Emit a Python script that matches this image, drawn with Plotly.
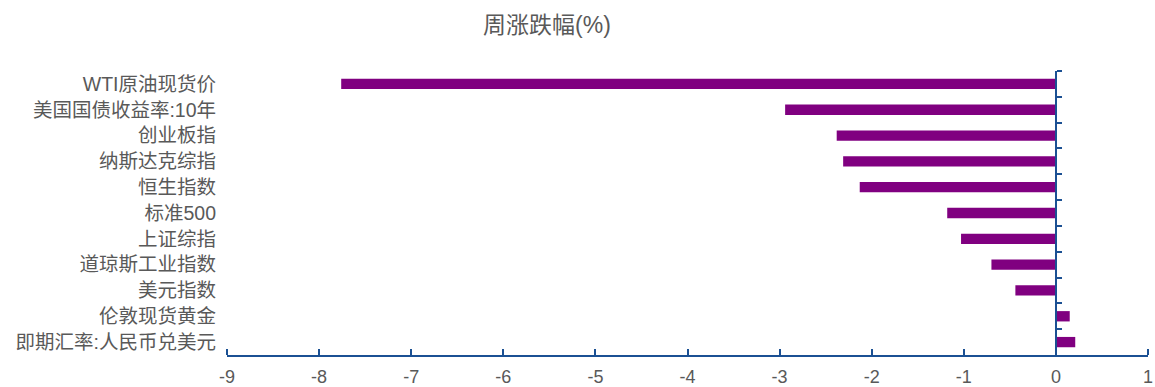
import plotly.graph_objects as go

categories = ["WTI原油现货价", "美国国债收益率:10年", "创业板指", "纳斯达克综指", "恒生指数",
              "标准500", "上证综指", "道琼斯工业指数", "美元指数", "伦敦现货黄金", "即期汇率:人民币兑美元"]
values = [-7.76, -2.94, -2.38, -2.31, -2.13, -1.18, -1.03, -0.70, -0.44, 0.15, 0.21]
x_range = [-9, 1]
x_ticks = list(range(-9, 2))
x_tick_labels = [str(v) for v in x_ticks]
title_text = "周涨跌幅(%)"

axis_color = "#1B5093"
bar_color = "#800080"
text_color = "#595959"
font_family = "Liberation Sans, Arial, Noto Sans CJK SC, sans-serif"

fig = go.Figure()
fig.add_trace(go.Bar(x=values, y=categories, orientation="h", marker_color=bar_color,
                     marker_line_width=0, width=0.4, xaxis="x", yaxis="y", hoverinfo="x+y"))
# transparent twin so the overlay axes (axis line at x=0 and upward x ticks) are drawn
fig.add_trace(go.Bar(x=values, y=categories, orientation="h", marker_color="rgba(0,0,0,0)",
                     marker_line_width=0, width=0.4, xaxis="x2", yaxis="y2",
                     hoverinfo="skip", showlegend=False))

yr = [len(categories) - 0.5, -0.5]
fig.update_layout(
    width=1155, height=387,
    margin=dict(l=227, r=7, t=71, b=32),
    plot_bgcolor="rgba(0,0,0,0)", paper_bgcolor="white",
    showlegend=False,
    barmode="overlay",
    font=dict(family=font_family, color=text_color),
    title=dict(text=title_text, x=547 / 1155, xref="container", xanchor="center",
               y=1 - 25 / 387, yref="container", yanchor="middle",
               font=dict(size=23, color=text_color)),
    xaxis=dict(range=x_range, tickvals=x_ticks, ticktext=x_tick_labels,
               showgrid=False, zeroline=False, automargin=False,
               showline=True, linecolor=axis_color, linewidth=2, ticks="",
               tickfont=dict(size=18, color=text_color), ticklabelstandoff=4),
    xaxis2=dict(range=x_range, tickvals=x_ticks, overlaying="x", side="top",
                anchor="free", position=0, showgrid=False, zeroline=False,
                showline=False, ticks="outside", ticklen=6, tickwidth=2,
                tickcolor=axis_color, showticklabels=False),
    yaxis=dict(type="category", categoryorder="array", categoryarray=categories,
               range=yr, showgrid=False, zeroline=False, showline=False, ticks="",
               automargin=False,
               tickfont=dict(size=19.5, color=text_color), ticklabelstandoff=10),
    yaxis2=dict(type="category", categoryorder="array", categoryarray=categories,
                range=yr, overlaying="y", anchor="free",
                position=(0 - x_range[0]) / (x_range[1] - x_range[0]),
                side="right", showgrid=False, zeroline=False,
                showline=True, linecolor=axis_color, linewidth=2,
                ticks="outside", tickson="boundaries", ticklen=5, tickwidth=2,
                tickcolor=axis_color, showticklabels=False),
)

fig.write_html("out.html")
